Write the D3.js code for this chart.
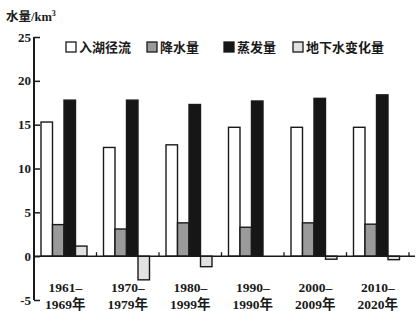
<!DOCTYPE html>
<html>
<head>
<meta charset="utf-8">
<script src="https://cdn.jsdelivr.net/npm/d3@7"></script>
<style>
  body { margin: 0; background: #fff; }
  svg text { font-family: "Liberation Serif", "Noto Sans CJK SC", serif; font-weight: bold; fill: #1a1a1a; }
</style>
</head>
<body>
<div id="chart"></div>
<script>
// data (km³)
const periods = ["1961–1969年", "1970–1979年", "1980–1999年", "1990–1990年", "2000–2009年", "2010–2020年"];
const seriesNames = ["入湖径流", "降水量", "蒸发量", "地下水变化量"];
const runoff = [15.3, 12.4, 12.7, 14.7, 14.7, 14.7];
const precip = [3.6, 3.1, 3.8, 3.3, 3.8, 3.65];
const evap = [17.8, 17.8, 17.3, 17.7, 18.0, 18.4];
const groundwater = [1.15, -2.7, -1.2, 0, -0.35, -0.4];
const yTicks = [-5, 0, 5, 10, 15, 20, 25];

const fills = ["#ffffff", "#9a9a9a", "#161616", "#e2e2e2"];
const values = [runoff, precip, evap, groundwater];

const W = 417, H = 311;
const svg = d3.select("#chart").append("svg").attr("width", W).attr("height", H);

const y = d3.scaleLinear().domain([-5, 25]).range([300, 37]);
const x = d3.scaleBand().domain(periods).range([34, 409]);
const xs = d3.scaleBand().domain(seriesNames).range([7, 53]);

// bars
const rows = [];
periods.forEach((p, i) => {
  seriesNames.forEach((s, j) => rows.push({ p, s, j, v: values[j][i] }));
});

svg.selectAll(".bar")
  .data(rows.filter((d) => d.v !== 0))
  .join("rect")
  .attr("class", "bar")
  .attr("x", (d) => x(d.p) + xs(d.s))
  .attr("width", xs.bandwidth())
  .attr("y", (d) => y(Math.max(0, d.v)))
  .attr("height", (d) => Math.abs(y(d.v) - y(0)))
  .attr("fill", (d) => fills[d.j])
  .attr("stroke", "#1a1a1a")
  .attr("stroke-width", 1.4);

// zero line + small separators
svg.append("line")
  .attr("x1", 34).attr("x2", 415)
  .attr("y1", y(0)).attr("y2", y(0))
  .attr("stroke", "#1a1a1a").attr("stroke-width", 1.5);

svg.selectAll(".sep")
  .data(periods)
  .join("line")
  .attr("class", "sep")
  .attr("x1", (d) => x(d) + x.bandwidth()).attr("x2", (d) => x(d) + x.bandwidth())
  .attr("y1", y(0)).attr("y2", y(0) - 4)
  .attr("stroke", "#1a1a1a").attr("stroke-width", 1.3);

// y axis
const yAxis = svg.append("g").attr("transform", "translate(34,0)")
  .call(d3.axisRight(y).tickValues(yTicks).tickSize(6).tickFormat(""));
yAxis.select(".domain").attr("stroke", "#1a1a1a").attr("stroke-width", 2).attr("d", `M0,${y(25)}V${y(-5)}`);
yAxis.selectAll(".tick line").attr("stroke", "#1a1a1a").attr("stroke-width", 1.5);

svg.selectAll(".ylab")
  .data(yTicks)
  .join("text")
  .attr("class", "ylab")
  .attr("x", 31)
  .attr("y", (d) => y(d) + 4.5)
  .attr("text-anchor", "end")
  .attr("font-size", 13)
  .text((d) => (d < 0 ? "-" + Math.abs(d) : d));

// y title
const title = svg.append("text").attr("x", 6).attr("y", 21).attr("font-size", 12.5);
title.append("tspan").text("水量/km");
title.append("tspan").attr("dy", -5).attr("font-size", 8).text("3");

// x labels
const xl = svg.selectAll(".xlab")
  .data(periods)
  .join("text")
  .attr("class", "xlab")
  .attr("text-anchor", "middle")
  .attr("font-size", 13.5);
xl.append("tspan")
  .attr("x", (d) => x(d) + x.bandwidth() / 2)
  .attr("y", 292)
  .text((d) => d.split("–")[0] + "–");
xl.append("tspan")
  .attr("x", (d) => x(d) + x.bandwidth() / 2)
  .attr("y", 309)
  .text((d) => d.split("–")[1]);

// legend
const legendX = [66, 147, 224, 293];
const lg = svg.selectAll(".lg")
  .data(seriesNames)
  .join("g")
  .attr("class", "lg")
  .attr("transform", (d, i) => `translate(${legendX[i]},42)`);
lg.append("rect")
  .attr("width", 10).attr("height", 10)
  .attr("fill", (d, i) => fills[i])
  .attr("stroke", "#1a1a1a").attr("stroke-width", 1.3);
lg.append("text")
  .attr("x", 13).attr("y", 10)
  .attr("font-size", 13)
  .text((d) => d);
</script>
</body>
</html>
